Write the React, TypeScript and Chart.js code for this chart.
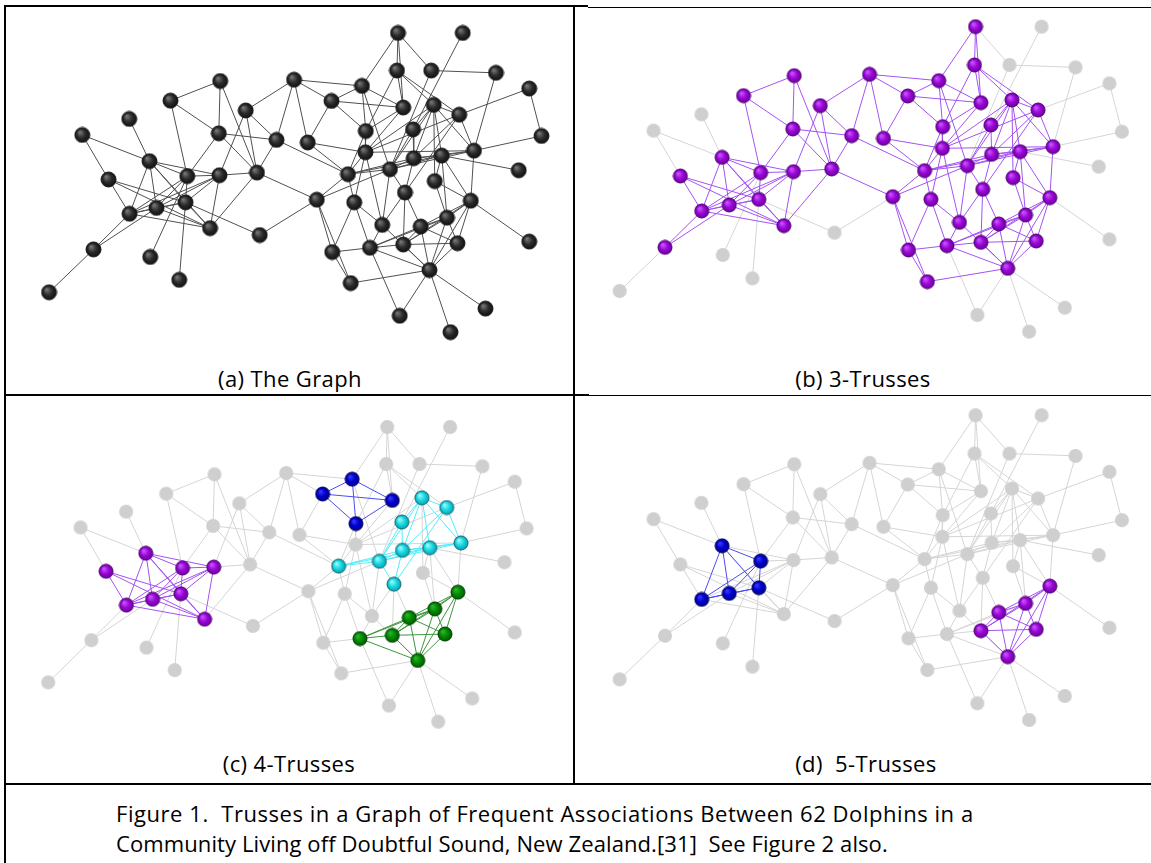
import React, { useEffect, useRef } from "react";
import { Chart, registerables } from "chart.js";
Chart.register(...registerables);

// Node layout (shared by all four panels), in layout units
const nodeX = [1080,1265,1077,1175,1360,1455,1490,572,783,977,430,890,1095,1182,1255,645,312,178,568,733,822,988,1123,987,1125,1205,1297,1425,370,253,478,570,677,937,1057,1185,1100,313,390,473,543,848,955,1288,1220,1035,1145,685,210,372,455,83,892,1000,1095,1250,1455,1170,945,1085,1330,1230];
const nodeY = [50,50,165,165,172,220,365,197,193,212,257,258,278,270,300,287,313,362,357,377,385,350,345,415,433,425,410,470,442,498,488,485,477,482,467,503,538,603,585,568,647,560,568,563,615,637,642,668,712,735,805,843,720,707,697,693,688,775,815,915,893,965];

// Edges (1-based node ids): left community
const edgesLeft: [number, number][] = [
  [52,49],[49,38],[49,39],[18,29],[18,30],[17,29],[50,31],[51,40],[40,48],[42,48],
  [29,31],[29,38],[29,39],[29,40],[31,38],[31,39],[31,40],[38,39],[38,40],[39,40],
  [30,38],[30,40],[30,41],[29,41],[29,32],[31,32],[32,38],[32,39],[32,40],[32,41],[38,41],[39,41],[40,41],
  [11,31],[19,31],[32,33],[16,32],[33,41],
  [8,11],[8,19],[8,33],[11,19],[9,16],[16,20],[16,33],[19,20],[19,33],[9,20],[20,33],[20,34],
  [9,21],[12,21],[21,24],[33,42],[9,10],[9,12],
];
// Edges: right community
const edgesRight: [number, number][] = [
  [1,3],[1,10],[1,4],[1,13],[4,5],[4,35],[5,27],[6,15],[6,7],[7,27],[2,23],[26,28],[44,57],
  [10,12],[10,13],[10,22],[10,35],[12,13],[12,22],[13,22],[13,24],
  [3,13],[3,14],[3,15],[3,22],
  [14,15],[14,23],[14,25],[14,26],[14,24],[14,35],[14,36],[14,27],
  [15,25],[15,24],[15,27],[15,37],
  [22,24],[22,34],[21,34],[24,34],[24,43],[24,27],[24,46],
  [34,35],[25,34],[26,34],[34,42],[34,43],
  [25,35],[26,35],[27,35],[35,37],[35,42],[35,46],
  [25,26],[25,27],[25,37],[23,25],[23,35],
  [26,27],[26,36],[26,45],[26,44],[27,44],[36,44],[36,45],
  [37,47],[37,55],[37,46],
  [42,53],[42,59],[43,53],[43,54],[43,46],[46,54],[46,58],
  [53,54],[53,59],[58,59],[58,60],[54,60],[58,61],[58,62],
  [44,45],[44,47],[44,55],[44,56],[44,58],[45,47],[45,55],[45,56],[45,58],[47,55],[47,56],[47,58],[55,56],[55,58],[56,58],
  [54,55],[47,54],[54,58],[45,54],
];
const edges = [...edgesLeft, ...edgesRight];

// Truss memberships
const truss3Nodes = [1,3,8,9,10,11,12,13,14,15,16,19,20,21,22,23,24,25,26,27,29,30,31,32,33,34,35,36,37,38,39,40,41,42,43,44,45,46,47,49,53,54,55,56,58,59];
const truss4Violet = [29,30,31,32,38,39,40,41];
const truss4Blue = [10,12,13,22];
const truss4Cyan = [14,15,23,25,26,27,34,35,37];
const truss4Green = [44,45,47,54,55,56,58];
const truss5Blue = [29,31,38,39,40];
const truss5Violet = [44,45,47,55,56,58];
const allNodes = nodeX.map((_, i) => i + 1);

const panelLabels = ["(a) The Graph", "(b) 3-Trusses", "(c) 4-Trusses", "(d)  5-Trusses"];
const captionLines = [
  "Figure 1.  Trusses in a Graph of Frequent Associations Between 62 Dolphins in a",
  "Community Living off Doubtful Sound, New Zealand.[31]  See Figure 2 also.",
];
const captionSpacing = [0.55, 0.1];

type Palette = { light: string; base: string; dark: string; stroke: string | null; edge: string };
const PAL: Record<string, Palette> = {
  black: { light: "#7a7a7a", base: "#2c2c2c", dark: "#111111", stroke: "#1a1a1a", edge: "#505050" },
  violet: { light: "#c65cff", base: "#9a05d8", dark: "#6e009c", stroke: "#4e0070", edge: "#a452f5" },
  blue: { light: "#3a3aff", base: "#0000cf", dark: "#00008c", stroke: "#000055", edge: "#4a4cf5" },
  cyan: { light: "#9cffff", base: "#1ad6e0", dark: "#00a6b4", stroke: "#1b6570", edge: "#50eefc" },
  green: { light: "#2cb82c", base: "#028a02", dark: "#005a00", stroke: "#003c00", edge: "#3c963c" },
  gray: { light: "#cfcfcf", base: "#cfcfcf", dark: "#cfcfcf", stroke: null, edge: "#d5d5d5" },
};

type Group = { nodes: number[]; pal: string };
type PanelDef = {
  left: number; top: number; width: number; height: number;
  ox: number; oy: number; sx: number; sy: number; d: number;
  groups: Group[];
};

const panels: PanelDef[] = [
  { left: 7, top: 8, width: 566, height: 345, ox: 20, oy: 16.6, sx: 0.35, sy: 0.327, d: 15, groups: [{ nodes: allNodes, pal: "black" }] },
  { left: 576, top: 9, width: 575, height: 344, ox: 590, oy: 10, sx: 0.357, sy: 1 / 3, d: 14, groups: [{ nodes: truss3Nodes, pal: "violet" }] },
  { left: 7, top: 397, width: 566, height: 340, ox: 20, oy: 410.9, sx: 0.34, sy: 0.322, d: 14, groups: [
    { nodes: truss4Violet, pal: "violet" }, { nodes: truss4Blue, pal: "blue" }, { nodes: truss4Cyan, pal: "cyan" }, { nodes: truss4Green, pal: "green" } ] },
  { left: 576, top: 397, width: 575, height: 340, ox: 590, oy: 398.6, sx: 0.357, sy: 0.333, d: 14, groups: [
    { nodes: truss5Blue, pal: "blue" }, { nodes: truss5Violet, pal: "violet" } ] },
];

function sphere(d: number, p: Palette): HTMLCanvasElement {
  const c = document.createElement("canvas");
  const s = d + 2;
  c.width = s; c.height = s;
  const ctx = c.getContext("2d")!;
  const r = d / 2, cx = s / 2;
  ctx.beginPath();
  ctx.arc(cx, cx, r, 0, Math.PI * 2);
  if (p.stroke) {
    const g = ctx.createRadialGradient(cx - r * 0.35, cx - r * 0.4, r * 0.05, cx, cx, r);
    g.addColorStop(0, p.light);
    g.addColorStop(0.55, p.base);
    g.addColorStop(1, p.dark);
    ctx.fillStyle = g;
  } else {
    ctx.fillStyle = p.base;
  }
  ctx.fill();
  if (p.stroke) { ctx.lineWidth = 1; ctx.strokeStyle = p.stroke; ctx.stroke(); }
  return c;
}

function GraphPanel({ def }: { def: PanelDef }) {
  const ref = useRef<HTMLCanvasElement | null>(null);
  useEffect(() => {
    const canvas = ref.current!;
    const groupOf = (id: number): string => {
      for (const g of def.groups) if (g.nodes.includes(id)) return g.pal;
      return "gray";
    };
    const datasets: any[] = [];
    edges.forEach(([a, b]) => {
      const ga = groupOf(a), gb = groupOf(b);
      const pal = ga === gb ? ga : "gray";
      datasets.push({
        type: "scatter",
        data: [{ x: nodeX[a - 1], y: nodeY[a - 1] }, { x: nodeX[b - 1], y: nodeY[b - 1] }],
        showLine: true,
        borderColor: PAL[pal].edge,
        borderWidth: 1,
        pointRadius: 0,
        order: pal === "gray" ? 10 : 6,
        clip: false,
      });
    });
    const pals = ["gray", ...def.groups.map((g) => g.pal)];
    pals.forEach((pal, k) => {
      const ids = allNodes.filter((id) => groupOf(id) === pal);
      datasets.push({
        type: "scatter",
        data: ids.map((id) => ({ x: nodeX[id - 1], y: nodeY[id - 1] })),
        pointStyle: sphere(def.d, PAL[pal]),
        pointRadius: def.d / 2,
        showLine: false,
        order: pal === "gray" ? 8 : 2 - k * 0.01,
        clip: false,
      });
    });
    const chart = new Chart(canvas, {
      type: "scatter",
      data: { datasets },
      options: {
        animation: false,
        responsive: false,
        maintainAspectRatio: false,
        events: [],
        layout: { padding: 0, autoPadding: false },
        plugins: { legend: { display: false }, tooltip: { enabled: false } },
        scales: {
          x: { type: "linear", display: false, min: (def.left - def.ox) / def.sx, max: (def.left + def.width - def.ox) / def.sx },
          y: { type: "linear", display: false, reverse: true, min: (def.top - def.oy) / def.sy, max: (def.top + def.height - def.oy) / def.sy },
        },
      },
    });
    return () => chart.destroy();
  }, [def]);
  return (
    <canvas
      ref={ref}
      width={def.width}
      height={def.height}
      style={{ position: "absolute", left: def.left, top: def.top, width: def.width, height: def.height }}
    />
  );
}

const line = (l: number, t: number, w: number, h: number) => (
  <div style={{ position: "absolute", left: l, top: t, width: w, height: h, background: "#000" }} />
);

const FONT = "'Open Sans', Lato, sans-serif";

export default function App() {
  const labelPos = [
    { cx: 290, cy: 378 },
    { cx: 863, cy: 378 },
    { cx: 289, cy: 763 },
    { cx: 866, cy: 763 },
  ];
  return (
    <div style={{ position: "absolute", left: 0, top: 0, width: 1151, height: 863, background: "#fff", overflow: "hidden", fontFamily: FONT }}>
      {panels.map((p, i) => <GraphPanel key={i} def={p} />)}
      {line(4, 5, 584, 2)}
      {line(588, 7, 563, 1)}
      {line(4, 5, 2, 858)}
      {line(573, 5, 2, 778)}
      {line(4, 394, 585, 2)}
      {line(589, 395, 562, 1)}
      {line(4, 783, 1147, 2)}
      {panelLabels.map((t, i) => (
        <div key={t} style={{ position: "absolute", left: labelPos[i].cx - 150, top: labelPos[i].cy - 15, width: 300, height: 30, lineHeight: "30px", textAlign: "center", fontSize: 22, letterSpacing: "0.4px", color: "#000", whiteSpace: "pre" }}>{t}</div>
      ))}
      {captionLines.map((t, i) => (
        <div key={i} style={{ position: "absolute", left: 116, top: 798 + i * 30, lineHeight: "30px", fontSize: 22, letterSpacing: `${captionSpacing[i]}px`, color: "#000", whiteSpace: "pre" }}>{t}</div>
      ))}
    </div>
  );
}
